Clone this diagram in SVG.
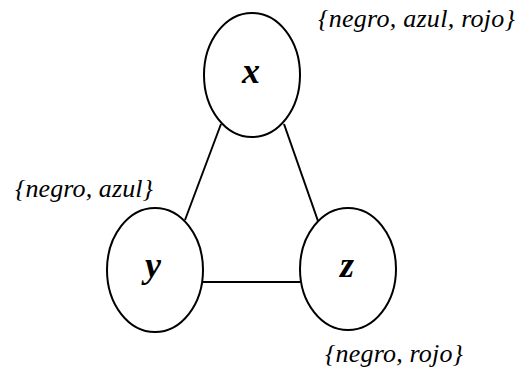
<svg xmlns="http://www.w3.org/2000/svg" width="522" height="373" viewBox="0 0 522 373">
<style>
.n{fill:#fff;stroke:#000;stroke-width:2}
.e{stroke:#000;stroke-width:2;fill:none}
.v{font-family:"Liberation Serif",serif;font-style:italic;font-weight:bold;font-size:36px;text-anchor:middle;fill:#000}
.d{font-family:"Liberation Serif",serif;font-style:italic;font-size:26px;fill:#000}
</style>
<rect width="522" height="373" fill="#fff"/>
<g id="edges">
<line class="e" x1="221" y1="124" x2="185" y2="220"/>
<line class="e" x1="284" y1="124" x2="318" y2="221"/>
<line class="e" x1="203" y1="282" x2="300" y2="282"/>
</g>
<g id="node-x">
<ellipse class="n" cx="252" cy="75" rx="48" ry="62"/>
<text class="v" x="251" y="83">x</text>
<text class="d" x="318" y="27" textLength="197" lengthAdjust="spacing">{negro, azul, rojo}</text>
</g>
<g id="node-y">
<ellipse class="n" cx="155" cy="270" rx="48" ry="62"/>
<text class="v" x="153" y="277">y</text>
<text class="d" x="15" y="197" textLength="138" lengthAdjust="spacing">{negro, azul}</text>
</g>
<g id="node-z">
<ellipse class="n" cx="348" cy="269" rx="48" ry="61"/>
<text class="v" x="347" y="277">z</text>
<text class="d" x="325" y="362" textLength="138" lengthAdjust="spacing">{negro, rojo}</text>
</g>
</svg>
